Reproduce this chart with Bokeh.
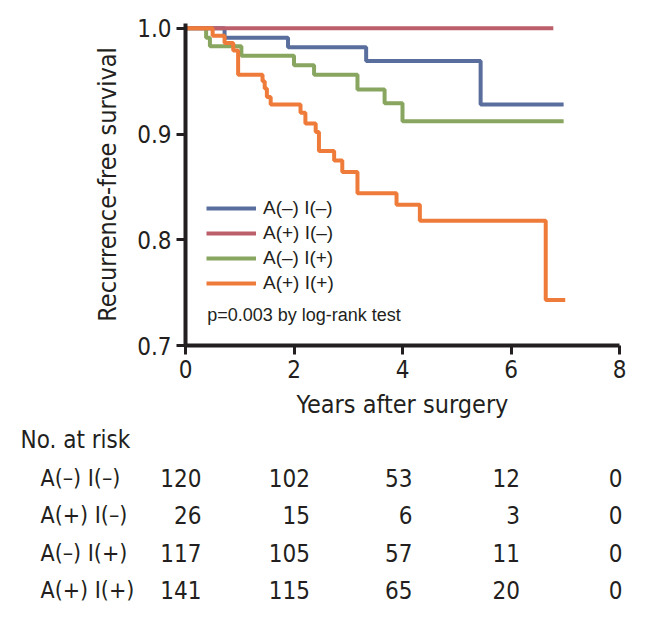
from bokeh.plotting import figure
from bokeh.models import (Range1d, FixedTicker, Legend, LegendItem, Label,
                          NumeralTickFormatter, ColumnDataSource)
from bokeh.layouts import column
from bokeh.embed import file_html
from bokeh.resources import INLINE
from bokeh.core.properties import value

# ---------------- data ----------------
groups = ["A(–) I(–)", "A(+) I(–)", "A(–) I(+)", "A(+) I(+)"]
colors = ["#5A6E9E", "#BC5F6A", "#88A65F", "#EF7B3A"]

t_neg_neg = [0, 0.72, 1.89, 3.33, 5.44, 6.97]
s_neg_neg = [1.0, 0.991, 0.982, 0.969, 0.928, 0.928]

t_pos_neg = [0, 6.78]
s_pos_neg = [1.0, 1.0]

t_neg_pos = [0, 0.38, 0.45, 1.03, 2.0, 2.37, 3.17, 3.67, 4.0, 6.97]
s_neg_pos = [1.0, 0.991, 0.983, 0.974, 0.965, 0.956, 0.942, 0.929, 0.912, 0.912]

t_pos_pos = [0, 0.5, 0.72, 0.88, 0.97, 1.42, 1.46, 1.5, 1.57, 2.12, 2.21, 2.4,
             2.46, 2.74, 2.89, 3.17, 3.89, 4.32, 6.64, 7.0]
s_pos_pos = [1.0, 0.993, 0.986, 0.979, 0.956, 0.95, 0.943, 0.935, 0.928, 0.92,
             0.91, 0.902, 0.884, 0.875, 0.864, 0.844, 0.833, 0.818, 0.743, 0.743]

x_ticks = [0, 2, 4, 6, 8]
y_ticks = [0.7, 0.8, 0.9, 1.0]

risk_years = [0, 2, 4, 6, 8]
risk_neg_neg = [120, 102, 53, 12, 0]
risk_pos_neg = [26, 15, 6, 3, 0]
risk_neg_pos = [117, 105, 57, 11, 0]
risk_pos_pos = [141, 115, 65, 20, 0]

p_text = "p=0.003 by log-rank test"
risk_title = "No. at risk"

# ---------------- style ----------------
NARROW = "DejaVu Sans Condensed, Roboto, sans-serif"
REG = "Liberation Sans"
INK = "#231f20"

p = figure(width=658, height=426, x_range=Range1d(0, 8), y_range=Range1d(0.7, 1.0045),
           output_backend="svg", toolbar_location=None,
           min_border_left=185, min_border_right=39, min_border_top=23, min_border_bottom=81)
p.grid.visible = False
p.outline_line_color = None
p.background_fill_color = "white"

series = [(t_neg_neg, s_neg_neg), (t_pos_neg, s_pos_neg), (t_neg_pos, s_neg_pos), (t_pos_pos, s_pos_pos)]
renderers = [None] * 4
for idx in [0, 2, 1, 3]:
    tt, ss = series[idx]
    renderers[idx] = p.step(x=tt, y=ss, mode="after", line_color=colors[idx], line_width=4)

p.xaxis.ticker = FixedTicker(ticks=x_ticks, minor_ticks=[])
p.yaxis.ticker = FixedTicker(ticks=y_ticks, minor_ticks=[])
p.yaxis.formatter = NumeralTickFormatter(format="0.0")
p.xaxis.axis_label = "Years after surgery"
p.yaxis.axis_label = "Recurrence-free survival"
for ax in (p.xaxis[0], p.yaxis[0]):
    ax.axis_line_width = 4
    ax.axis_line_color = INK
    ax.major_tick_line_width = 3
    ax.major_tick_line_color = INK
    ax.major_tick_out = 9
    ax.major_tick_in = 0
    ax.minor_tick_out = 0
    ax.minor_tick_in = 0
    ax.major_label_text_font = NARROW
    ax.major_label_text_font_size = "24px"
    ax.major_label_text_color = INK
    ax.axis_label_text_font = NARROW
    ax.axis_label_text_font_size = "25px"
    ax.axis_label_text_font_style = "normal"
    ax.axis_label_text_color = INK
p.xaxis.major_label_standoff = 5
p.xaxis.axis_label_standoff = 9
p.yaxis.major_label_standoff = 5
p.yaxis.axis_label_standoff = 12

legend = Legend(items=[LegendItem(label=g, renderers=[r]) for g, r in zip(groups, renderers)],
                location=(21, 51), orientation="vertical",
                glyph_width=50, glyph_height=20, label_height=20, label_standoff=7,
                spacing=3, padding=0, margin=0,
                border_line_color=None, background_fill_alpha=0,
                label_text_font=REG, label_text_font_size="19px", label_text_color=INK)
p.add_layout(legend)

p.add_layout(Label(x=0.4, y=0.729, text=p_text, text_font=REG, text_font_size="18px",
                   text_color=INK, text_baseline="middle", text_align="left"))

# ---------------- number-at-risk table ----------------
px_per_year = 434 / 8.0
x_start = -185 / px_per_year
x_end = x_start + 658 / px_per_year
t = figure(width=658, height=195, x_range=Range1d(x_start, x_end), y_range=Range1d(4.84, -0.374),
           output_backend="svg", toolbar_location=None, min_border=0,
           x_axis_location=None, y_axis_location=None)
t.grid.visible = False
t.outline_line_color = None

t.text(x=[x_start], y=[0], text=[risk_title], x_offset=20,
       text_align="left", text_baseline="middle",
       text_font=value(NARROW), text_font_size="24px", text_color=INK)
t.text(x=[x_start] * 4, y=[1, 2, 3, 4], text=groups, x_offset=40,
       text_align="left", text_baseline="middle",
       text_font=value(NARROW), text_font_size="23px", text_color=INK)

col_offsets = [16, 16, 10, 9, 3]
rx, ry, rt, ro = [], [], [], []
for row, counts in enumerate([risk_neg_neg, risk_pos_neg, risk_neg_pos, risk_pos_pos], start=1):
    for yr, n, off in zip(risk_years, counts, col_offsets):
        rx.append(yr); ry.append(row); rt.append(str(n)); ro.append(off)
src = ColumnDataSource(dict(x=rx, y=ry, text=rt, xo=ro))
t.text(x="x", y="y", text="text", x_offset="xo", source=src,
       text_align="right", text_baseline="middle",
       text_font=value(NARROW), text_font_size="24px", text_color=INK)

try:
    p.frame_align = False
    t.frame_align = False
    out = column(p, t)
except AttributeError:
    out = [p, t]
open("out.html", "w").write(file_html(out, INLINE))
